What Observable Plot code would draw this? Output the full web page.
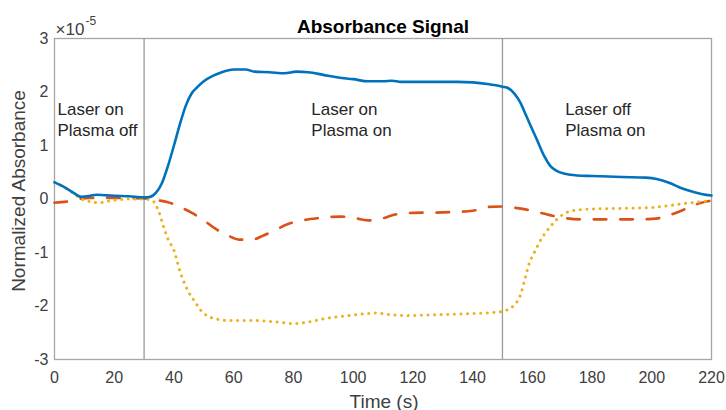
<!DOCTYPE html>
<html><head><meta charset="utf-8">
<script src="https://cdn.jsdelivr.net/npm/d3@7"></script>
<script src="https://cdn.jsdelivr.net/npm/@observablehq/plot@0.6"></script>
<style>body{margin:0;background:#fff} svg{display:block}</style>
</head><body><div id="chart"></div>
<script>
// Time axis ticks and y ticks (×10^-5)
const xTicks = [0,20,40,60,80,100,120,140,160,180,200,220];
const yTicks = [-3,-2,-1,0,1,2,3];
const phaseBounds = [30,150];

// Blue (solid) series
const blueT = [0,3,6,9,12,14,17,20,25,30,32,34,36,38,40,42,44,46,48,50,53,56,60,64,67,72,77,81,85,90,95,100,105,110,113,116,125,135,140,145,150,152,154,156,158,160,162,164,166,168,171,175,180,190,198,202,206,210,214,217,220];
const blueV = [0.31,0.23,0.13,0.04,0.06,0.08,0.07,0.06,0.05,0.03,0.04,0.12,0.3,0.62,1.0,1.4,1.75,1.98,2.1,2.2,2.3,2.37,2.42,2.42,2.38,2.37,2.35,2.38,2.37,2.32,2.27,2.24,2.2,2.2,2.21,2.19,2.19,2.19,2.18,2.15,2.1,2.07,1.97,1.8,1.55,1.3,1.05,0.8,0.62,0.53,0.47,0.44,0.43,0.41,0.40,0.37,0.3,0.2,0.13,0.09,0.065];

// Orange (dashed) series
const orangeT = [0,4,8,12,20,30,34,38,42,46,50,54,58,62,66,70,74,78,82,88,96,100,105,110,114,120,130,140,145,150,155,160,165,170,176,185,195,200,204,208,212,216,220];
const orangeV = [-0.07,-0.05,0.0,0.02,0.02,0.01,-0.02,-0.06,-0.15,-0.26,-0.4,-0.56,-0.68,-0.76,-0.76,-0.68,-0.58,-0.47,-0.41,-0.36,-0.33,-0.35,-0.4,-0.36,-0.29,-0.26,-0.25,-0.22,-0.15,-0.14,-0.17,-0.22,-0.29,-0.35,-0.38,-0.38,-0.38,-0.37,-0.34,-0.26,-0.17,-0.08,-0.03];

// Yellow (dotted) series
const yellowT = [0,3,6,9,12,15,18,22,26,30,33,35,36.6,38,40,42,43,45,47,49,51,54,58,62,66,70,75,80,85,90,95,100,105,108,112,118,124,130,140,147,150,152,154,156,157.5,159,160.5,162,164,166,168,170,172,176,185,195,200,205,210,215,220];
const yellowV = [0.31,0.23,0.12,0.0,-0.05,-0.07,-0.04,-0.01,0.0,0.0,-0.04,-0.25,-0.53,-0.75,-0.96,-1.35,-1.5,-1.75,-1.92,-2.08,-2.18,-2.24,-2.27,-2.27,-2.27,-2.28,-2.3,-2.33,-2.3,-2.24,-2.2,-2.17,-2.14,-2.13,-2.16,-2.18,-2.17,-2.16,-2.14,-2.12,-2.1,-2.06,-1.98,-1.8,-1.5,-1.2,-1.02,-0.85,-0.66,-0.52,-0.39,-0.3,-0.24,-0.2,-0.18,-0.17,-0.16,-0.13,-0.09,-0.06,-0.03];

// Annotations
const noteX = [1,86,171];
const noteY = [1.86,1.86,1.86];
const noteText = ["Laser on\nPlasma off","Laser on\nPlasma on","Laser off\nPlasma on"];

const toRows = (T,V) => T.map((t,i)=>({t, v:V[i]}));
const notes = noteText.map((s,i)=>({x:noteX[i], y:noteY[i], s}));

const font = "'Liberation Sans', Arial, Helvetica, sans-serif";

const plot = Plot.plot({
  width:726, height:410,
  marginLeft:54, marginRight:15, marginTop:38, marginBottom:51,
  style:{fontFamily:font, fontSize:"16px", color:"#404040", background:"#fff"},
  x:{domain:[0,220], ticks:xTicks, tickSize:0, tickPadding:12, label:null},
  y:{domain:[-3,3], ticks:yTicks, tickSize:0, tickPadding:6, label:null, tickFormat:d=>String(d).replace("−","-")},
  marks:[
    Plot.frame({stroke:"#a6a6a6", strokeWidth:1.3}),
    Plot.ruleX(phaseBounds,{stroke:"#999999", strokeWidth:1.3}),
    Plot.line(toRows(orangeT,orangeV),{x:"t",y:"v",stroke:"#D95319",strokeWidth:2.7,strokeDasharray:"12.5,14",curve:"monotone-x"}),
    Plot.line(toRows(yellowT,yellowV),{x:"t",y:"v",stroke:"#EDB120",strokeWidth:3,strokeDasharray:"0.1,6.5",strokeLinecap:"round",curve:"monotone-x"}),
    Plot.line(toRows(blueT,blueV),{x:"t",y:"v",stroke:"#0072BD",strokeWidth:2.6,curve:"monotone-x"}),
    Plot.text(notes,{x:"x",y:"y",text:"s",textAnchor:"start",lineAnchor:"top",lineHeight:1.25,fontSize:17,fill:"#262626"}),
    Plot.text(["Absorbance Signal"],{frameAnchor:"top",dy:-6,lineAnchor:"bottom",fontWeight:"bold",fontSize:19,fill:"#000"}),
    Plot.text(["Time (s)"],{frameAnchor:"bottom",dy:48,dx:1,lineAnchor:"bottom",fontSize:19,fill:"#404040"}),
    Plot.text(["Normalized Absorbance"],{frameAnchor:"left",dx:-36,dy:-8,rotate:-90,textAnchor:"middle",lineAnchor:"middle",fontSize:19,fill:"#404040"}),
    Plot.text(["×10"],{frameAnchor:"top-left",dx:1,dy:-4,textAnchor:"start",lineAnchor:"bottom",fontSize:17,fill:"#404040"}),
    Plot.text(["-5"],{frameAnchor:"top-left",dx:31,dy:-14,textAnchor:"start",lineAnchor:"bottom",fontSize:12,fill:"#404040"})
  ]
});
document.getElementById("chart").appendChild(plot);
</script></body></html>
